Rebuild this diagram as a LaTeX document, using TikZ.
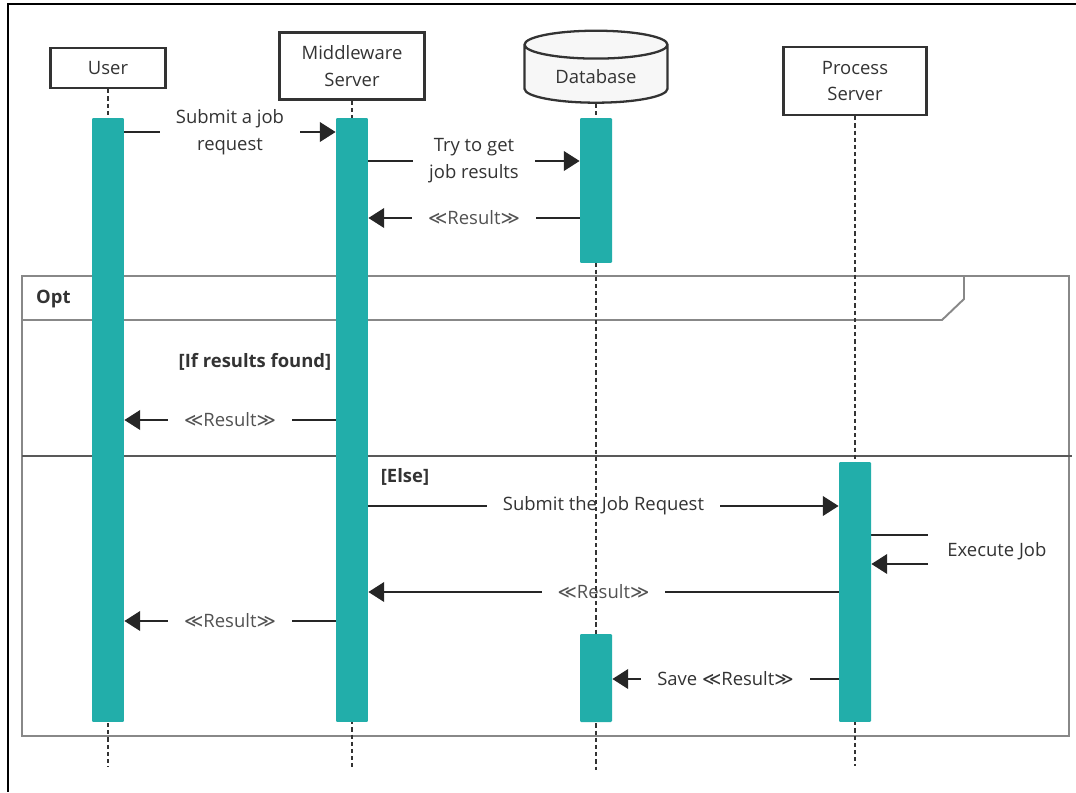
\documentclass[tikz,border=0pt]{standalone}
\usepackage{fontspec}
\setmainfont{Open Sans}
\newfontfamily\symfont{DejaVu Sans}
\usetikzlibrary{shapes.geometric,arrows.meta,calc}
\definecolor{barteal}{HTML}{22AEAA}
\definecolor{ink}{HTML}{333333}
\definecolor{frame}{HTML}{888888}
\newcommand{\res}{{\symfont\char"226A}Result{\symfont\char"226B}}
\pgfdeclarelayer{back}
\pgfdeclarelayer{mid}
\pgfsetlayers{back,mid,main}
\tikzset{head/.style={
    draw=ink,
    line width=1.3pt,
    align=center,
    text=ink,
    font=\fontsize{10.5}{15.3}\selectfont}}
\tikzset{bar/.style={
    fill=barteal,
    rounded corners=0.6pt,
    minimum width=0.64cm,
    inner sep=0pt}}
\tikzset{life/.style={
    draw=ink,
    line width=1.1pt,
    dash pattern=on 2.4pt off 1.7pt}}
\tikzset{msg/.style={
    -{Triangle[length=9pt,width=11pt]},
    line width=1.6pt,
    draw=black!85}}
\tikzset{lbl/.style={
    fill=white,
    inner xsep=9pt,
    inner ysep=1pt,
    text=ink,
    align=center,
    font=\fontsize{10.5}{15.3}\selectfont}}
\tikzset{guard/.style={
    text=ink,
    font=\fontsize{10.5}{14.5}\selectfont\bfseries}}

\begin{document}
\begin{tikzpicture}[x=0.02cm, y=-0.02cm]
\useasboundingbox (0,0) rectangle (1076,792);
\draw[line width=1.3pt] (1076,4) -- (8,4) -- (8,792);

\node[head,
  minimum width=2.3cm,
  minimum height=0.8cm] (user) at (108,68) {User};
\node[head,
  minimum width=2.9cm,
  minimum height=1.34cm] (mid) at (352,66) {Middleware\\Server};
\node[head,
  cylinder,
  shape border rotate=90,
  aspect=0.3,
  fill=black!3,
  minimum width=2.86cm,
  minimum height=1.44cm] (db) at (596,77) {Database};
\node[head,
  minimum width=2.86cm,
  minimum height=1.36cm] (proc) at (855,81) {Process\\Server};

\node[bar, minimum height=12.08cm] (user-a) at (108,420) {};
\node[bar, minimum height=12.08cm] (mid-a) at (352,420) {};
\node[bar, minimum height=2.9cm] (db-a1) at (596,190.5) {};
\node[bar, minimum height=1.76cm] (db-a2) at (596,678) {};
\node[bar, minimum height=5.2cm] (proc-a) at (855,592) {};

\coordinate (user-end) at (108,767);
\coordinate (mid-end) at (352,767);
\coordinate (db-end) at (596,770);
\coordinate (proc-end) at (855,766);
\coordinate (ex-top) at (928,535);
\coordinate (ex-bot) at (928,564);

\begin{pgfonlayer}{mid}
  \draw[life] (user) -- (user-end);
  \draw[life] (mid) -- (mid-end);
  \draw[life] (db) -- (db-end);
  \draw[life] (proc) -- (proc-end);
\end{pgfonlayer}

\begin{pgfonlayer}{back}
  \draw[frame, line width=1.1pt] (22,276) rectangle (1069,736);
  \draw[frame, line width=1.1pt] (22,320) -- (942,320) -- (964,299) -- (964,276);
  \draw[black!65, line width=1.1pt] (22,456) -- (1072,456);
  \node[guard, anchor=west] (opt) at (30,299) {Opt};
  \node[guard] (found) at (255,362) {[If results found]};
  \node[guard] (else) at (405,477) {[Else]};

  \draw[msg] (user-a.east |- 0,132) -- node[lbl] {Submit a job\\request} (mid-a.west |- 0,132);
  \draw[msg] (mid-a.east |- 0,161) -- node[lbl] {Try to get\\job results} (db-a1.west |- 0,161);
  \draw[msg] (db-a1.west |- 0,218) -- node[lbl, text=ink!85] {\res} (mid-a.east |- 0,218);
  \draw[msg] (mid-a.west |- 0,420) -- node[lbl, text=ink!85] {\res} (user-a.east |- 0,420);
  \draw[msg] (mid-a.east |- 0,506) -- node[lbl] {Submit the Job Request} (proc-a.west |- 0,506);
  \draw[line width=1.6pt, draw=black!85] (proc-a.east |- ex-top) -- (ex-top);
  \draw[msg] (ex-bot) -- (proc-a.east |- ex-bot);
  \node[lbl, anchor=west, inner xsep=0pt] (exec) at (947,551) {Execute Job};
  \draw[msg] (proc-a.west |- 0,592) -- node[lbl, text=ink!85] {\res} (mid-a.east |- 0,592);
  \draw[msg] (mid-a.west |- 0,621) -- node[lbl, text=ink!85] {\res} (user-a.east |- 0,621);
  \draw[msg] (proc-a.west |- 0,679) -- node[lbl] {Save \res} (db-a2.east |- 0,679);
\end{pgfonlayer}
\end{tikzpicture}
\end{document}
